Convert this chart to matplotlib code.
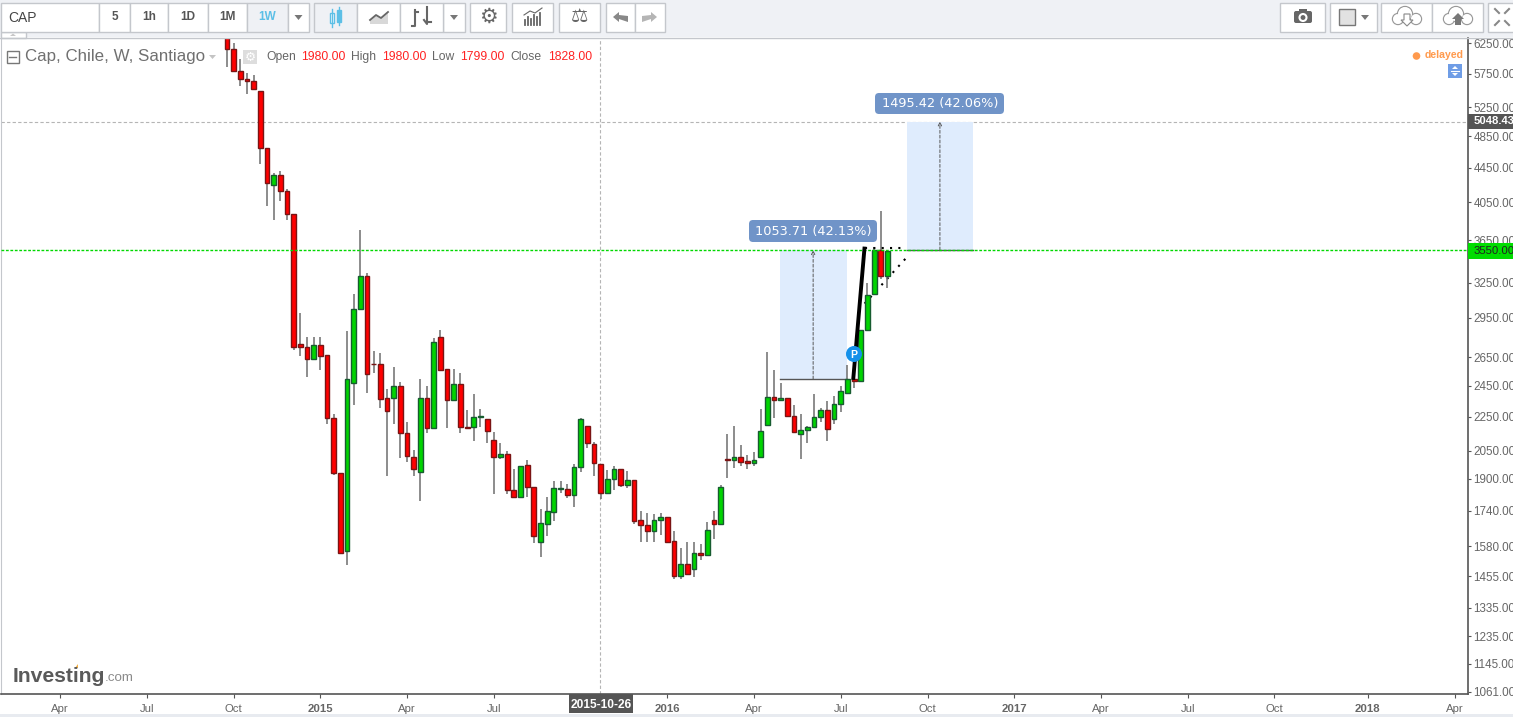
import numpy as np
import pandas as pd
import matplotlib
matplotlib.use("Agg")
import matplotlib.pyplot as plt
import matplotlib.dates as mdates
from matplotlib.patches import Rectangle, FancyBboxPatch, Circle, Polygon
from matplotlib.ticker import FixedLocator, FixedFormatter, NullLocator

plt.rcParams["font.family"] = ["Liberation Sans", "DejaVu Sans"]

first_week = "2014-09-29"
opens = [6450, 6160, 5800, 5674, 5642, 5491, 4693, 4241, 4363, 4177,
         3922, 2748, 2725, 2636, 2740, 2666, 2243, 1930, 1558, 2466,
         3023, 3309, 2603, 2601, 2370, 2370, 2449, 2153, 2017, 1933,
         2370, 2181, 2801, 2566, 2354, 2462, 2189, 2187, 2249, 2238,
         2113, 2015, 2033, 1843, 1808, 1973, 1859, 1596, 1681, 1737,
         1850, 1848, 1816, 1960, 2194, 2089, 1980, 1828, 1899, 1952,
         1866, 1893, 1697, 1674, 1645, 1697, 1711, 1602, 1456, 1504,
         1486, 1551, 1544, 1697, 1679, 2005, 1999, 2017, 1993, 1982,
         2017, 2201, 2376, 2354, 2370, 2256, 2147, 2171, 2189, 2250,
         2293, 2238, 2331, 2403, 2498, 2480, 2853, 3150, 3550, 3309]
closes = [6160, 5800, 5674, 5636, 5515, 4693, 4263, 4363, 4171, 3922,
          2722, 2722, 2633, 2740, 2658, 2241, 1928, 1550, 2496, 3023,
          3309, 2528, 2599, 2363, 2290, 2449, 2151, 2020, 1950, 2370,
          2181, 2762, 2556, 2354, 2462, 2187, 2185, 2250, 2255, 2163,
          2015, 2033, 1841, 1808, 1968, 1857, 1623, 1683, 1739, 1854,
          1855, 1816, 1962, 2238, 2093, 1982, 1828, 1899, 1952, 1866,
          1893, 1691, 1672, 1645, 1697, 1711, 1600, 1456, 1504, 1466,
          1550, 1544, 1651, 1679, 1859, 1998, 2017, 1991, 1982, 1999,
          2165, 2376, 2354, 2370, 2256, 2159, 2171, 2189, 2250, 2293,
          2177, 2331, 2416, 2496, 2480, 2853, 3137, 3557, 3305, 3544]
highs = [6500, 6250, 5993, 5768, 5741, 5491, 4693, 4387, 4410, 4201,
         3922, 2991, 2801, 2801, 2801, 2666, 2268, 1930, 2847, 3153,
         3747, 3336, 2695, 2680, 2428, 2582, 2476, 2219, 2056, 2496,
         2449, 2793, 2853, 2566, 2568, 2538, 2295, 2398, 2301, 2238,
         2159, 2095, 2050, 1953, 1968, 2000, 1859, 1750, 1808, 1888,
         1888, 1874, 1978, 2244, 2194, 2101, 1980, 1948, 1969, 1952,
         1942, 1893, 1739, 1730, 1725, 1730, 1711, 1647, 1572, 1597,
         1597, 1590, 1688, 1739, 1868, 2147, 2194, 2083, 2028, 2045,
         2299, 2688, 2559, 2469, 2370, 2325, 2268, 2195, 2396, 2306,
         2350, 2385, 2449, 2591, 2498, 2853, 3246, 3577, 3957, 3544]
lows = [5868, 5800, 5561, 5436, 5515, 4500, 4004, 3853, 4059, 3853,
        2705, 2655, 2507, 2636, 2556, 2205, 1922, 1550, 1502, 2322,
        3012, 2400, 2535, 2303, 1912, 2205, 2009, 1987, 1912, 1786,
        2151, 2181, 2556, 2181, 2354, 2151, 2175, 2104, 2187, 2093,
        1821, 2003, 1821, 1801, 1808, 1808, 1592, 1532, 1623, 1691,
        1826, 1801, 1761, 1933, 2065, 1912, 1799, 1821, 1841, 1860,
        1851, 1681, 1600, 1600, 1600, 1627, 1592, 1443, 1443, 1462,
        1451, 1521, 1544, 1613, 1679, 1903, 1955, 1970, 1950, 1970,
        2017, 2201, 2241, 2354, 2256, 2151, 2003, 2093, 2189, 2217,
        2104, 2205, 2279, 2403, 2433, 2480, 2853, 3150, 3277, 3205]

price_ticks = [6250, 5750, 5250, 4850, 4450, 4050, 3650, 3250, 2950, 2650, 2450,
               2250, 2050, 1900, 1740, 1580, 1455, 1335, 1235, 1145, 1061]
date_ticks = ["2014-04-07", "2014-07-07", "2014-10-06", "2015-01-05", "2015-04-06",
              "2015-07-06", "2016-01-04", "2016-04-04", "2016-07-04", "2016-10-03",
              "2017-01-02", "2017-04-03", "2017-07-03", "2017-10-02", "2018-01-08",
              "2018-04-09"]
date_labels = ["Apr", "Jul", "Oct", "2015", "Apr", "Jul", "2016", "Apr", "Jul", "Oct",
               "2017", "Apr", "Jul", "Oct", "2018", "Apr"]

level_green = 3550.0
level_target = 5048.43
cursor_date = "2015-10-25"
move1_dates = ["2016-05-01", "2016-07-10"]
move1_prices = [2496.29, 3550.0]
move2_dates = ["2016-09-11", "2016-11-20"]
move2_prices = [3553.01, 5048.43]
trend_dates = ["2016-07-17", "2016-07-29"]
trend_prices = [2490, 3585]
dots_h_dates = ["2016-07-29", "2016-09-10"]
dots_h_prices = [3575, 3575]
dots_d_dates = ["2016-07-29", "2016-09-12"]
dots_d_prices = [3068, 3490]

GREEN = "#00d400"
RED = "#ff0000"
GREEN_EDGE = "#175c30"
RED_EDGE = "#7a1414"
GRAY = "#666666"
CHROME = "#eff1f5"
BORDER = "#c4c7cc"
BLUE_LABEL = "#7094c8"


def draw_candles(ax):
    dates = pd.date_range(first_week, periods=len(opens), freq="W-MON")
    o = np.array(opens, dtype=float)
    c = np.array(closes, dtype=float)
    up = c >= o
    ax.vlines(dates, lows, highs, color="#6e6e6e", lw=1.1, zorder=3)
    ax.bar(dates, np.abs(c - o), bottom=np.minimum(o, c), width=5.0,
           color=[GREEN if u else RED for u in up],
           edgecolor=[GREEN_EDGE if u else RED_EDGE for u in up],
           linewidth=1.0, zorder=4)


def draw_drawings(ax):
    ax.axhline(level_green, color="#00d800", ls=(0, (2, 1.2)), lw=1.0, zorder=5)
    ax.axhline(level_target, color="#b5b5b5", ls=(0, (3, 2)), lw=0.8, zorder=1)
    ax.axvline(pd.Timestamp(cursor_date), color="#b5b5b5", ls=(0, (3, 2)), lw=0.8, zorder=1)

    for d, p in [(move1_dates, move1_prices), (move2_dates, move2_prices)]:
        d0, d1 = pd.Timestamp(d[0]), pd.Timestamp(d[1])
        ax.fill_between([d0, d1], p[0], p[1], color="#dfecfd", lw=0, zorder=1.5)
        mid = d0 + (d1 - d0) / 2
        ax.annotate("", xy=(mid, p[1]), xytext=(mid, p[0]), zorder=2,
                    arrowprops=dict(arrowstyle="->", ls=(0, (3, 2)), lw=0.7,
                                    color="#555555", shrinkA=0, shrinkB=0, mutation_scale=6))
        ax.plot([d0, d1], [p[0], p[0]], color="#555555", lw=1.0, zorder=2)

    ax.plot(pd.to_datetime(dots_d_dates), dots_d_prices, color="black", lw=1.5,
            ls=(0, (1, 3)), zorder=2.5)
    ax.plot(pd.to_datetime(dots_h_dates), dots_h_prices, color="black", lw=1.5,
            ls=(0, (1, 3)), zorder=5)
    ax.plot(pd.to_datetime(trend_dates), trend_prices, color="black", lw=2.8,
            solid_capstyle="butt", zorder=6)


def box(ov, x0, y0, x1, y1, fc="white", ec=BORDER, lw=1.0):
    ov.add_patch(Rectangle((x0, y0), x1 - x0, y1 - y0, fc=fc, ec=ec, lw=lw))


def draw_cloud(ov, cx, cy, up):
    parts = [(cx - 9, cy + 3, 5.5), (cx - 2, cy - 2, 7.5), (cx + 9, cy + 3, 5.5)]
    for x, y, r in parts:
        ov.add_patch(Circle((x, y), r, fc="white", ec="#999999", lw=1))
    for x, y, r in parts:
        ov.add_patch(Circle((x, y), r - 0.6, fc="white", ec="none"))
    if up:
        ov.add_patch(Polygon([[cx, cy - 3], [cx + 6, cy + 3], [cx + 3, cy + 3], [cx + 3, cy + 9],
                              [cx - 3, cy + 9], [cx - 3, cy + 3], [cx - 6, cy + 3]], fc="#777777"))
    else:
        ov.add_patch(Polygon([[cx, cy + 10], [cx + 6, cy + 4], [cx + 3, cy + 4], [cx + 3, cy - 2],
                              [cx - 3, cy - 2], [cx - 3, cy + 4], [cx - 6, cy + 4]],
                             fc="white", ec="#888888", lw=0.8))


def draw_toolbar(ov):
    ov.add_patch(Rectangle((0, 0), 1513, 37, fc=CHROME, ec="none"))
    ov.plot([0, 1513], [37.5, 37.5], color=BORDER, lw=1)
    box(ov, 1, 32, 26, 38)
    ov.add_patch(Polygon([[10, 36], [16, 36], [13, 33.5]], fc="#c8c8c8"))

    box(ov, 1, 3, 99, 32)
    ov.text(8, 17.5, "CAP", fontsize=10, color="#444444", va="center")
    for x0, x1, t in [(99, 130, "5"), (130, 168, "1h"), (168, 208, "1D"), (208, 247, "1M")]:
        box(ov, x0, 3, x1, 32)
        ov.text((x0 + x1) / 2, 17.5, t, fontsize=8.5, fontweight="bold", color="#555555",
                ha="center", va="center")
    box(ov, 247, 3, 288, 32, fc=CHROME)
    ov.text(267.5, 17.5, "1W", fontsize=8.5, fontweight="bold", color="#5cbfe6",
            ha="center", va="center")
    for x0, x1 in [(288, 309), (443, 465)]:
        box(ov, x0, 3, x1, 32)
        ov.add_patch(Polygon([[(x0 + x1) / 2 - 4, 15], [(x0 + x1) / 2 + 4, 15],
                              [(x0 + x1) / 2, 20]], fc="#777777"))

    box(ov, 314, 3, 357, 32, fc=CHROME)
    ov.plot([332, 332], [9, 27], color="#5cbfe6", lw=1)
    ov.plot([339, 339], [7, 25], color="#5cbfe6", lw=1)
    ov.add_patch(Rectangle((330, 13), 4, 10, fc="white", ec="#5cbfe6", lw=1))
    ov.add_patch(Rectangle((337, 10), 4, 12, fc="#5cbfe6", ec="#5cbfe6", lw=1))

    box(ov, 357, 3, 400, 32)
    ov.add_patch(Polygon([[370, 24], [370, 20], [376, 15], [381, 18], [388, 12], [388, 24]],
                         fc="#d8d8d8", ec="none"))
    ov.plot([370, 376, 381, 388], [20, 15, 18, 12], color="#666666", lw=1.3)

    box(ov, 400, 3, 443, 32)
    ov.plot([415, 415, 412], [10, 26, 26], color="#666666", lw=1.5)
    ov.plot([415, 418], [12, 12], color="#666666", lw=1.5)
    ov.plot([427, 427, 424], [7, 24, 20], color="#666666", lw=1.5)
    ov.plot([427, 431], [22, 22], color="#666666", lw=1.5)

    box(ov, 470, 3, 506, 32)
    ov.text(488, 17, "\u2699", fontsize=15, color="#666666", ha="center", va="center",
            family="DejaVu Sans")
    box(ov, 512, 3, 553, 32)
    for i, h in enumerate([5, 8, 6, 10, 8, 12]):
        ov.plot([525 + i * 3, 525 + i * 3], [25, 25 - h], color="#666666", lw=1.3)
    ov.plot([524, 530, 535, 542], [15, 11, 13, 8], color="#666666", lw=0.8)
    box(ov, 559, 3, 600, 32)
    ov.text(579.5, 17, "\u2696", fontsize=14, color="#666666", ha="center", va="center",
            family="DejaVu Sans")
    box(ov, 606, 3, 635, 32)
    box(ov, 635, 3, 665, 32)
    ov.add_patch(Polygon([[613, 17], [619, 12], [619, 15], [628, 16], [628, 22], [619, 19], [619, 22]],
                         fc="#888888"))
    ov.add_patch(Polygon([[657, 17], [651, 12], [651, 15], [642, 16], [642, 22], [651, 19], [651, 22]],
                         fc="#b5b5b5"))

    box(ov, 1280, 3, 1325, 32)
    ov.add_patch(FancyBboxPatch((1294, 11), 18, 12, boxstyle="round,pad=0,rounding_size=2",
                                fc="#666666", ec="none"))
    ov.add_patch(Rectangle((1299, 9), 8, 3, fc="#666666", ec="none"))
    ov.add_patch(Circle((1303, 17.5), 3.5, fc="#666666", ec="white", lw=1.5))
    box(ov, 1330, 3, 1377, 32)
    box(ov, 1339, 9, 1355, 25, fc="#e2e2e2", ec="#777777")
    ov.add_patch(Polygon([[1361, 15], [1369, 15], [1365, 20]], fc="#777777"))
    box(ov, 1381, 3, 1432, 32)
    box(ov, 1432, 3, 1483, 32)
    draw_cloud(ov, 1407, 16, up=False)
    draw_cloud(ov, 1458, 16, up=True)
    box(ov, 1488, 3, 1514, 32)
    for x, y, dx, dy in [(1495, 9, 4, 4), (1509, 9, -4, 4), (1495, 25, 4, -4), (1509, 25, -4, -4)]:
        ov.plot([x, x + dx], [y, y + dy], color="#888888", lw=1.5)


def draw_header(ov):
    box(ov, 6.5, 50.5, 18.5, 62.5, fc="white", ec="#777777")
    ov.plot([9, 16], [56.5, 56.5], color="#777777", lw=1)
    ov.text(25, 57, "Cap, Chile, W, Santiago", fontsize=12.2, color="#707070", va="center")
    ov.add_patch(Polygon([[209, 55], [216, 55], [212.5, 59]], fc="#c4c4c4"))
    ov.add_patch(Rectangle((243, 50), 14, 14, fc="#dddddd", ec="none", zorder=7))
    ov.text(250, 57, "\u2699", fontsize=9, color="white", ha="center", va="center",
            family="DejaVu Sans", zorder=8)
    for x, t, col in [(266, "Open", "#666666"), (301, "1980.00", "#ff2222"),
                      (351, "High", "#666666"), (382, "1980.00", "#ff2222"),
                      (432, "Low", "#666666"), (460, "1799.00", "#ff2222"),
                      (510, "Close", "#666666"), (548, "1828.00", "#ff2222")]:
        ov.text(x, 57, t, fontsize=8.7, color=col, va="center")
    ov.add_patch(Circle((1416.5, 56), 3.8, fc="#ff9a4d", ec="none"))
    ov.text(1425, 55.5, "delayed", fontsize=7.6, fontweight="bold", color="#ff9a4d", va="center")
    ov.add_patch(Rectangle((1448, 64), 14, 14, fc="#6f9de6", ec="none"))
    ov.add_patch(Polygon([[1452, 69], [1458, 69], [1455, 66]], fc="white"))
    ov.add_patch(Polygon([[1452, 73], [1458, 73], [1455, 76]], fc="white"))
    ov.plot([1451, 1459], [71, 71], color="white", lw=0.8)


def draw_tags(ov):
    ov.add_patch(FancyBboxPatch((749, 220), 128, 22, boxstyle="round,pad=0,rounding_size=4",
                                fc=BLUE_LABEL, ec="none", zorder=9))
    ov.text(813, 231, "1053.71 (42.13%)", fontsize=9.3, color="white", ha="center", va="center",
            family="DejaVu Sans", zorder=10)
    ov.add_patch(FancyBboxPatch((875, 93), 129, 21, boxstyle="round,pad=0,rounding_size=4",
                                fc=BLUE_LABEL, ec="none", zorder=9))
    ov.text(940, 103.5, "1495.42 (42.06%)", fontsize=9.3, color="white", ha="center", va="center",
            family="DejaVu Sans", zorder=10)

    ov.add_patch(Rectangle((1468, 114), 45, 15, fc="#555555", ec="none", zorder=9))
    ov.text(1474, 121.5, "5048.43", fontsize=8.1, fontweight="bold", color="white", va="center", zorder=10)
    ov.add_patch(Rectangle((1468, 243), 45, 16, fc="#00dd00", ec="none", zorder=9))
    ov.text(1474, 251, "3550.00", fontsize=8.2, color="#222222", va="center", zorder=10)
    ov.add_patch(Rectangle((569, 694), 64, 19, fc="#555555", ec="none", zorder=9))
    ov.text(601, 704.5, "2015-10-26", fontsize=8.6, fontweight="bold", color="white",
            ha="center", va="center", zorder=10)

    ov.add_patch(Circle((854, 354), 8, fc="#1591ea", ec="none", zorder=9))
    ov.text(854, 354.5, "P", fontsize=7.5, fontweight="bold", color="white", ha="center",
            va="center", zorder=10)

    ov.text(13, 676, "Investing", fontsize=15.2, fontweight="bold", color="#5a5a5a", va="center")
    ov.text(105, 678, ".com", fontsize=9.6, color="#8a8a8a", va="center")
    ov.add_patch(Polygon([[75, 668], [78, 664], [78, 668]], fc="#f5b041", ec="none"))
    ov.add_patch(Rectangle((0, 713.5), 1513, 4, fc="#e8ebf0", ec="none", zorder=9))


def main():
    fig = plt.figure(figsize=(15.13, 7.17), dpi=100, facecolor="white")
    # axes box in pixels: x 1..1468, y 38..694
    ax = fig.add_axes([1 / 1513, 1 - 694 / 717, 1467 / 1513, 656 / 717])
    ax.set_yscale("log")
    ax.set_ylim(1054.5, 6344)
    ax.set_xlim(pd.Timestamp("2014-02-04"), pd.Timestamp("2018-04-23"))

    draw_candles(ax)
    draw_drawings(ax)

    ax.yaxis.tick_right()
    ax.yaxis.set_major_locator(FixedLocator(price_ticks))
    ax.yaxis.set_major_formatter(FixedFormatter([f"{p:.2f}" for p in price_ticks]))
    ax.yaxis.set_minor_locator(NullLocator())
    ax.tick_params(axis="y", which="major", length=2.5, width=0.8, color="#555555",
                   labelcolor=GRAY, labelsize=8.4, pad=1.5)
    ax.xaxis.set_major_locator(FixedLocator(mdates.date2num(pd.to_datetime(date_ticks))))
    ax.xaxis.set_major_formatter(FixedFormatter(date_labels))
    ax.xaxis.set_minor_locator(NullLocator())
    ax.tick_params(axis="x", which="major", length=3, width=0.8, color="#555555",
                   labelcolor=GRAY, labelsize=8.2, pad=4)
    for lab in ax.get_xticklabels():
        if lab.get_text().startswith("20"):
            lab.set_fontweight("bold")
    ax.spines["top"].set_visible(False)
    ax.spines["left"].set_color(BORDER)
    ax.spines["right"].set_color("#555555")
    ax.spines["bottom"].set_color("#555555")
    ax.spines["right"].set_linewidth(1.2)
    ax.spines["bottom"].set_linewidth(1.2)

    ov = fig.add_axes([0, 0, 1, 1], facecolor="none")
    ov.set_xlim(0, 1513)
    ov.set_ylim(717, 0)
    ov.axis("off")
    draw_toolbar(ov)
    draw_header(ov)
    draw_tags(ov)

    fig.savefig("out.png", dpi=100)


if __name__ == "__main__":
    main()
